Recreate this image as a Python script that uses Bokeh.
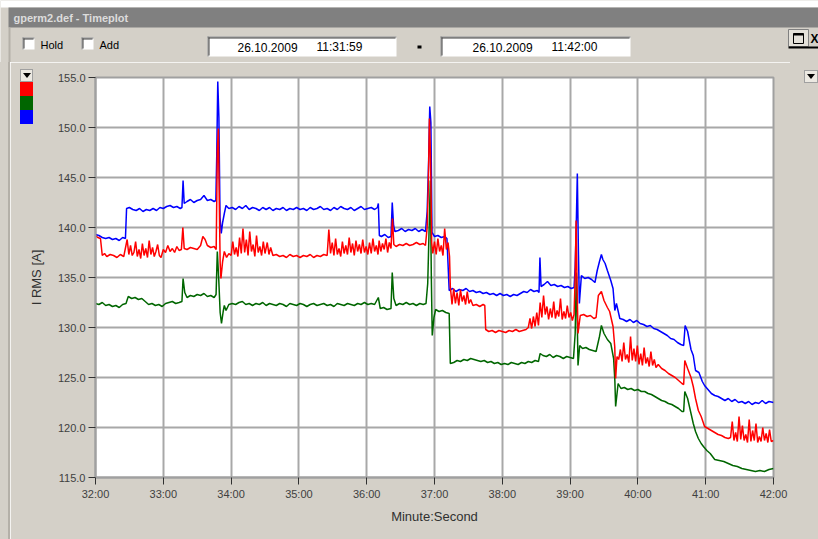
from bokeh.plotting import figure
from bokeh.layouts import column, row
from bokeh.models import Range1d, FixedTicker, PrintfTickFormatter, Div
from bokeh.core.properties import value
from bokeh.embed import file_html
from bokeh.resources import INLINE

# ---- data: seconds after 11:32:00 and RMS current [A] per phase ----
x_ticks = [0, 60, 120, 180, 240, 300, 360, 420, 480, 540, 600]
x_tick_labels = ["32:00", "33:00", "34:00", "35:00", "36:00", "37:00",
                 "38:00", "39:00", "40:00", "41:00", "42:00"]
y_ticks = [115, 120, 125, 130, 135, 140, 145, 150, 155]

t_blue = [0, 3, 6, 9, 12, 15, 18, 21, 24, 26.5, 27.5, 30, 33, 36, 39, 42, 45, 48, 51, 54,
          57, 60, 63, 66, 69, 72, 75, 76.5, 77.5, 78.5, 81, 84, 87, 90, 93, 96, 99, 102,
          105, 106.5, 107.3, 108.2, 109.2, 110.2, 111.3, 112.5, 114, 115.5, 118, 121,
          124, 127, 130, 133, 136, 139, 142, 145, 148, 151, 154, 157, 160, 163, 166,
          169, 172, 175, 178, 181, 184, 187, 190, 193, 196, 199, 202, 205, 208, 211,
          214, 217, 220, 223, 226, 229, 232, 235, 238, 241, 244, 247, 249.5, 250.3,
          251.2, 253, 256, 259, 261.5, 262.6, 263.8, 265, 268, 271, 274, 277, 280, 283,
          286, 289, 292, 293.5, 294.8, 295.8, 296.8, 297.8, 300, 303, 306, 309, 311,
          313, 316, 319, 322, 325, 328, 331, 334, 337, 340, 343, 346, 349, 352, 355,
          358, 361, 364, 367, 370, 373, 376, 379, 382, 385, 388, 391, 392.5, 393.3,
          394.3, 397, 400, 403, 406, 409, 412, 415, 418, 421, 423.5, 424.5, 425.5,
          426.4, 427.3, 428.2, 430, 433, 436, 439, 442, 444, 446, 447.7, 449, 451, 453,
          456, 458, 459.6, 461, 464, 467, 470, 473, 476, 479, 482, 485, 488, 491, 494,
          497, 500, 503, 506, 509, 512, 515, 518, 520.5, 521.8, 524, 527, 529, 531,
          534, 537, 539, 542, 545, 548, 551, 554, 557, 560, 563, 566, 569, 572, 575,
          578, 581, 584, 587, 590, 593, 596, 600]
i_blue = [139.3, 139.2, 139.0, 138.9, 139.0, 138.8, 138.9, 138.7, 139.0, 138.9, 141.9,
          142.0, 141.8, 141.7, 141.9, 141.6, 141.8, 141.7, 141.9, 141.7, 142.0, 141.9,
          142.1, 142.2, 142.0, 142.1, 141.9, 142.0, 144.7, 142.4, 142.6, 142.8, 142.5,
          142.7, 142.8, 143.2, 142.7, 142.8, 142.6, 142.7, 147.2, 154.6, 151.0, 141.0,
          139.4, 140.5, 141.4, 142.2, 141.9, 142.0, 141.8, 142.1, 141.9, 142.2, 141.8,
          142.0, 141.9, 141.7, 142.0, 141.8, 142.0, 141.7, 141.9, 141.8, 142.0, 141.7,
          141.9, 141.8, 142.0, 141.8, 141.9, 141.7, 142.0, 141.8, 141.9, 142.1, 141.8,
          141.9, 141.7, 142.0, 141.8, 142.1, 141.9, 141.8, 142.0, 141.7, 141.9, 142.1,
          141.8, 141.9, 142.0, 141.8, 142.0, 142.4, 139.2, 139.1, 139.3, 139.0, 139.1,
          142.5, 140.2, 139.6, 139.7, 139.9, 139.6, 139.8, 139.7, 139.9, 139.6, 139.8,
          139.6, 141.6, 146.6, 152.1, 150.5, 139.5, 139.1, 139.2, 139.0, 139.1, 138.9,
          133.7, 133.9, 133.6, 133.8, 133.7, 133.9, 133.6, 133.7, 133.5, 133.6, 133.4,
          133.5, 133.3, 133.4, 133.2, 133.4, 133.2, 133.3, 133.1, 133.3, 133.2, 133.4,
          133.6, 133.5, 133.8, 133.6, 133.7, 133.5, 137.0, 134.1, 134.3, 134.6, 134.2,
          134.3, 134.1, 134.2, 134.0, 134.1, 133.9, 134.0, 136.1, 140.5, 145.4, 138.0,
          132.4, 135.2, 134.9, 135.0, 134.8, 134.5, 135.7, 136.6, 137.3, 136.8, 136.4,
          135.7, 134.7, 133.9, 131.7, 132.4, 130.9, 130.8, 130.6, 130.8, 130.5, 130.7,
          130.4, 130.3, 130.1, 130.2, 129.9, 129.8, 129.6, 129.4, 129.2, 128.9, 128.8,
          128.5, 128.3, 128.2, 130.2, 129.6, 127.8, 127.2, 125.7, 125.5, 124.6, 124.2,
          123.8, 123.4, 123.2, 123.1, 122.9, 122.7, 122.9, 122.6, 122.8, 122.5, 122.6,
          122.4, 122.6, 122.3, 122.5, 122.4, 122.7, 122.4, 122.6, 122.5]

t_green = [0, 3, 6, 9, 12, 15, 18, 21, 24, 27, 29, 32, 35, 38, 41, 44, 47, 50, 53, 56,
           59, 62, 65, 68, 71, 74, 76.5, 77.5, 79, 81, 84, 87, 90, 93, 96, 99, 102, 105,
           106.7, 107.8, 109, 110.3, 111.5, 113, 114, 115.5, 118, 121, 124, 127, 130,
           133, 136, 139, 142, 145, 148, 151, 154, 157, 160, 163, 166, 169, 172, 175,
           178, 181, 184, 187, 190, 193, 196, 199, 202, 205, 208, 211, 214, 217, 220,
           223, 226, 229, 232, 235, 238, 241, 244, 247, 250.3, 252, 255, 258, 261.5,
           262.6, 264, 266, 269, 272, 275, 278, 281, 284, 287, 290, 292.5, 294, 295.5,
           296.3, 297.2, 298, 299.5, 301, 304, 307, 310, 313, 314, 317, 320, 323, 326,
           329, 332, 335, 338, 341, 344, 347, 350, 353, 356, 359, 362, 365, 368, 371,
           374, 377, 380, 383, 386, 389, 392, 393.5, 396, 399, 402, 405, 408, 411, 414,
           417, 420, 423, 424.5, 425.5, 426.3, 427, 428.5, 431, 434, 437, 440, 443, 446,
           447.7, 450, 453, 456, 458.5, 459.6, 460.3, 462.5, 465, 468, 471, 474, 477,
           480, 483, 486, 489, 492, 495, 498, 501, 504, 507, 510, 513, 516, 519, 520.5,
           521.5, 524, 527, 529, 531, 533.5, 536, 538, 541, 544, 548, 552, 556, 560,
           564, 568, 572, 576, 580, 584, 588, 592, 596, 600]
i_green = [132.4, 132.3, 132.5, 132.2, 132.3, 132.1, 132.2, 132.0, 132.3, 132.4, 133.1,
           132.9, 133.0, 132.8, 132.9, 132.6, 132.3, 132.4, 132.2, 132.3, 132.1, 132.4,
           132.5, 132.6, 132.4, 132.5, 132.6, 134.9, 133.5, 133.0, 133.2, 133.1, 133.3,
           133.2, 133.4, 133.1, 133.2, 133.0, 133.3, 137.6, 135.0, 131.5, 130.4, 131.6,
           132.2, 131.7, 132.3, 132.4, 132.3, 132.5, 132.6, 132.3, 132.4, 132.2, 132.4,
           132.3, 132.5, 132.2, 132.4, 132.3, 132.2, 132.4, 132.3, 132.1, 132.4, 132.3,
           132.2, 132.4, 132.3, 132.1, 132.3, 132.4, 132.2, 132.3, 132.4, 132.2, 132.3,
           132.1, 132.4, 132.3, 132.2, 132.4, 132.3, 132.2, 132.4, 132.3, 132.5, 132.3,
           132.4, 132.3, 133.0, 131.9, 132.0, 131.8, 131.9, 135.5, 132.9, 132.2, 132.4,
           132.3, 132.5, 132.3, 132.4, 132.2, 132.4, 132.3, 132.4, 134.4, 141.0, 144.7,
           135.0, 129.2, 131.0, 131.8, 131.6, 131.7, 131.5, 131.4, 126.4, 126.5, 126.7,
           126.6, 126.8, 126.7, 126.9, 126.8, 126.7, 126.6, 126.7, 126.5, 126.6, 126.4,
           126.5, 126.3, 126.4, 126.3, 126.5, 126.4, 126.3, 126.5, 126.4, 126.6, 126.5,
           126.7, 126.6, 127.4, 127.2, 127.1, 127.3, 127.0, 127.2, 127.1, 126.9, 127.1,
           127.0, 126.9, 129.4, 135.5, 131.0, 126.2, 128.2, 127.9, 128.0, 127.8, 127.7,
           127.6, 129.1, 130.2, 129.4, 128.8, 128.4, 126.9, 124.7, 122.1, 124.4, 123.9,
           124.0, 123.8, 123.9, 123.7, 123.8, 123.6, 123.6, 123.4, 123.3, 123.1, 122.9,
           122.7, 122.6, 122.4, 122.3, 122.1, 121.9, 121.6, 121.6, 123.6, 122.9, 121.4,
           120.4, 119.6, 118.9, 118.4, 118.1, 117.7, 117.4, 116.8, 116.7, 116.6, 116.4,
           116.2, 116.1, 115.9, 115.8, 115.7, 115.6, 115.7, 115.6, 115.8, 115.9]

t_red = [0, 2, 4.4, 6, 8, 10, 13, 16, 19, 22, 25, 28, 29.5, 31, 32.5, 34, 35.5, 37, 38.5,
         40, 41.5, 43, 44.5, 46, 47.5, 49, 50.5, 52, 53.5, 55, 56.5, 58, 60, 62, 64, 66,
         68, 70, 72, 74, 76, 77.3, 78.5, 81, 84, 87, 90, 93, 95, 97, 99, 102, 105, 106.8,
         107.8, 108.7, 109.5, 110.3, 111, 112.5, 114, 116, 118, 120, 121.5, 123, 124.5,
         126, 127.5, 129, 130.5, 132, 133.5, 135, 136.5, 138, 139.5, 141, 142.5, 144,
         145.5, 147, 148.5, 150, 152, 153.5, 155, 157, 160, 163, 166, 169, 172, 175,
         178, 181, 184, 187, 190, 193, 196, 199, 202, 205, 206.5, 208, 209.5, 211,
         212.5, 214, 215.5, 217, 218.5, 220, 221.5, 223, 224.5, 226, 227.5, 229, 230.5,
         232, 233.5, 235, 236.5, 238, 239.5, 241, 242.5, 244, 245.5, 247, 248.5, 250,
         251, 252.5, 254, 255.5, 257, 258.5, 260, 261.5, 262.8, 264, 266, 269, 272, 275,
         278, 281, 284, 287, 290, 292, 293.5, 294.5, 295.5, 296.5, 297.5, 298.5, 300,
         301.5, 303, 304.5, 306, 307.5, 309, 310.5, 312, 313.3, 314, 315.5, 317, 318.5,
         320, 321.5, 323, 324.5, 326, 327.5, 329, 330.5, 332, 334, 337, 340, 343, 344.5,
         345.3, 348, 351, 354, 357, 360, 363, 366, 369, 372, 375, 378, 381, 383, 384.5,
         386, 387.5, 389, 390.5, 392, 393.5, 395, 396.5, 398, 399.5, 401, 402.5, 404,
         405.5, 407, 408.5, 410, 411.5, 413, 414.5, 416, 417.5, 419, 420.5, 422, 423.5,
         424.5, 425.3, 426.2, 427, 429, 432, 435, 438, 441, 443, 445, 447.7, 450, 453,
         455, 458, 459.5, 460.3, 461.5, 463, 464.5, 466, 467.5, 469, 470.5, 472, 473.5,
         475, 476.5, 478, 479.5, 481, 482.5, 484, 485.5, 487, 488.5, 490, 491.5, 493,
         494.5, 496, 498, 501, 504, 507, 510, 513, 516, 519, 520.5, 521.5, 524, 527,
         529, 531, 533.5, 536, 539, 542, 545, 548, 551, 554, 557, 560, 562, 563.5, 565,
         566.5, 568, 569.5, 571, 572.5, 574, 575.5, 577, 578.5, 580, 581.5, 583, 584.5,
         586, 587.5, 589, 590.5, 592, 593.5, 595, 596.5, 598, 600]
i_red = [139.2, 139.0, 138.9, 137.2, 137.4, 137.1, 137.3, 137.2, 137.0, 137.3, 137.1,
         138.8, 137.3, 138.2, 137.2, 137.5, 138.6, 137.1, 137.8, 136.9, 138.4, 137.2,
         137.9, 137.0, 138.7, 137.3, 138.0, 137.1, 137.6, 138.3, 137.2, 137.0, 137.8,
         137.5, 138.2, 137.6, 137.9, 137.5, 138.1, 137.7, 137.8, 140.0, 137.9, 137.8,
         138.0, 137.9, 137.8, 138.2, 139.1, 138.8, 138.2, 138.0, 138.1, 137.8, 147.6,
         149.9, 143.0, 136.5, 134.9, 136.6, 137.6, 137.0, 137.4, 137.2, 138.6, 137.3,
         138.0, 137.1, 139.0, 137.4, 139.9, 137.5, 138.8, 137.2, 139.6, 137.6, 138.3,
         137.1, 139.2, 137.5, 138.1, 137.2, 138.6, 137.4, 138.5, 137.3, 138.0, 137.2,
         137.3, 137.1, 137.2, 137.0, 137.3, 137.1, 137.2, 137.0, 137.2, 137.1, 137.3,
         137.0, 137.2, 137.1, 137.3, 137.2, 139.8, 137.4, 138.5, 137.2, 138.9, 137.3,
         137.9, 137.1, 138.6, 137.4, 138.2, 137.3, 139.0, 137.5, 138.4, 137.2, 138.7,
         137.6, 138.3, 137.4, 138.8, 137.5, 138.1, 137.3, 138.5, 137.4, 138.9, 137.6,
         138.2, 137.3, 138.7, 137.6, 138.4, 137.8, 138.9, 137.5, 138.5, 137.9, 140.9,
         138.3, 138.1, 138.3, 138.2, 138.4, 138.2, 138.3, 138.5, 138.3, 138.4, 138.2,
         140.0, 144.0, 150.9, 147.0, 138.5, 137.4, 138.6, 137.3, 138.9, 137.6, 138.2,
         137.2, 139.9, 137.8, 138.5, 137.1, 134.1, 132.3, 133.9, 132.4, 133.5, 132.2,
         133.8, 132.6, 133.2, 132.3, 133.6, 132.4, 132.8, 132.2, 132.3, 132.1, 132.3,
         132.2, 129.8, 129.6, 129.7, 129.5, 129.7, 129.6, 129.5, 129.7, 129.6, 129.8,
         129.6, 129.7, 129.8, 130.0, 130.9, 129.9, 131.1, 130.1, 131.5, 130.2, 132.5,
         131.0, 133.2, 131.3, 132.1, 130.8, 131.9, 131.0, 132.6, 130.9, 131.7, 131.1,
         132.9, 130.8, 131.6, 130.9, 132.2, 131.0, 131.5, 130.7, 131.3, 135.0, 140.7,
         134.0, 129.4, 131.2, 131.3, 131.1, 131.2, 130.9, 131.0, 133.2, 133.6, 132.7,
         132.0, 131.6, 130.1, 128.1, 124.9, 127.1, 126.8, 127.8, 126.6, 128.5, 126.8,
         127.3, 126.5, 129.1, 126.7, 127.9, 126.6, 128.2, 126.3, 127.4, 126.2, 128.0,
         126.4, 127.0, 126.1, 127.6, 126.2, 126.8, 126.0, 126.3, 125.9, 125.7, 125.4,
         125.2, 125.0, 124.7, 124.4, 124.3, 126.7, 125.9, 125.0, 124.1, 122.9, 121.7,
         121.1, 120.1, 119.9, 119.7, 119.5, 119.3, 119.2, 119.0, 118.9, 119.0, 120.6,
         118.7, 119.5, 118.6, 121.1, 118.8, 120.2, 118.7, 119.3, 118.5, 120.8, 118.6,
         119.7, 118.7, 120.4, 118.5, 119.1, 118.6, 120.0, 118.7, 119.4, 118.5, 119.8,
         118.6, 118.7]

# ---- window geometry (pixels) ----
W, H = 818, 539
TOP_H = 62            # caption bar + controls strip
LEFT_W = 10           # window edge on the left
RIGHT_W = 28          # right-hand strip
FL, FR, FT, FB = 95, 773, 77, 477   # plotting frame on the window
WIN = "#d4d0c8"
FONT = "Liberation Sans"
RED, GREEN, BLUE = "#ff0000", "#006600", "#0000ff"


def panel(w, h):
    """A plain pixel-space drawing surface for window decoration."""
    f = figure(width=w, height=h, output_backend="svg", toolbar_location=None,
               x_range=Range1d(0, w), y_range=Range1d(h, 0),
               x_axis_type=None, y_axis_type=None, min_border=0)
    f.background_fill_color = WIN
    f.border_fill_color = WIN
    f.outline_line_color = None
    f.grid.visible = False
    return f


def rect(f, x0, y0, x1, y1, fill, line=None):
    f.quad(left=x0, right=x1, top=y0, bottom=y1, fill_color=fill,
           line_color=line, line_width=1)


def label(f, x, y, s, size="11px", color="#000000", bold=False):
    f.text(x=[x], y=[y], text=[s], text_font=value(FONT),
           text_font_size=value(size), text_color=color,
           text_baseline="middle", text_align="left",
           text_font_style="bold" if bold else "normal")


def sunken(f, x0, y0, x1, y1):
    rect(f, x0, y0, x1, y1, "white")
    rect(f, x0, y0, x1, y0 + 1, "#808080")
    rect(f, x0, y0, x0 + 1, y1, "#808080")
    rect(f, x0 + 1, y0 + 1, x1 - 1, y0 + 2, "#404040")
    rect(f, x0 + 1, y0 + 1, x0 + 2, y1 - 1, "#404040")


def css_box(x, y, w, h, css):
    return (f'<div style="position:absolute;left:{x}px;top:{y}px;width:{w}px;'
            f'height:{h}px;box-sizing:border-box;z-index:5;{css}"></div>')


def css_triangle(x, y):
    return (f'<div style="position:absolute;left:{x}px;top:{y}px;width:0;height:0;'
            'border-left:4px solid transparent;border-right:4px solid transparent;'
            'border-top:5px solid #000;z-index:6"></div>')


def strip(w, h, inner):
    html = (f'<div style="position:relative;width:{w}px;height:{h}px;'
            f'background:{WIN};overflow:visible">{inner}</div>')
    return Div(text=html, width=w, height=h, margin=0,
               styles={"overflow": "visible", "background-color": WIN})


# ---- caption bar and controls ----
top = panel(W, TOP_H)
rect(top, 0, 0, W, 7, "#ffffff")
rect(top, 8, 7, W, 27, "#808080")
label(top, 13, 17.5, "gperm2.def - Timeplot", size="11px", color="#dcdcdc", bold=True)
rect(top, 8, 27, 10, TOP_H, "#b4b0a8")
sunken(top, 22, 37, 34, 49)
label(top, 40, 44, "Hold")
sunken(top, 81, 37, 93, 49)
label(top, 99, 44, "Add")
sunken(top, 207, 36, 396, 56)
label(top, 237, 46.5, "26.10.2009", size="12px")
label(top, 316, 46.5, "11:31:59", size="12px")
rect(top, 417, 45, 421, 48, "#000000")
sunken(top, 440, 36, 630, 56)
label(top, 472, 46.5, "26.10.2009", size="12px")
label(top, 551, 46.5, "11:42:00", size="12px")
rect(top, 788, 29, 808, 46, "#e4e1da", "#808080")
rect(top, 793, 33, 803, 43, None, "#000000")
rect(top, 793, 33, 803, 35, "#000000")
rect(top, 788, 46, W, 48, "#000000")
label(top, 810, 38, "X", size="12px", bold=True)

# ---- left window edge with the channel selector (colour swatches of the phases) ----
left_parts = [css_box(8, 0, 2, H - TOP_H, "background:#b4b0a8"),
              css_box(20, 69 - TOP_H, 13, 13, "background:#ece9e2;border:1px solid #a0a0a0"),
              css_triangle(22.5, 73 - TOP_H)]
for c, y0 in ((RED, 82), (GREEN, 96), (BLUE, 110)):
    left_parts.append(css_box(20, y0 - TOP_H, 13, 14, f"background:{c}"))
left = strip(LEFT_W, H - TOP_H, "".join(left_parts))

# ---- right-hand strip ----
right = strip(RIGHT_W, H - TOP_H,
              css_box(14, 70 - TOP_H, 14, 13, "background:#ece9e2;border:1px solid #a0a0a0")
              + css_triangle(17, 74 - TOP_H))

# ---- time plot ----
p = figure(width=W - LEFT_W - RIGHT_W, height=H - TOP_H,
           output_backend="svg", toolbar_location=None,
           x_range=Range1d(0, 600), y_range=Range1d(115, 155),
           min_border_left=FL - LEFT_W, min_border_right=W - RIGHT_W - FR,
           min_border_top=FT - TOP_H, min_border_bottom=H - FB)
p.background_fill_color = "white"
p.border_fill_color = WIN
p.outline_line_color = "#a0a0a0"
p.outline_line_width = 2

p.xaxis.ticker = FixedTicker(ticks=x_ticks)
p.xaxis.major_label_overrides = {t: s for t, s in zip(x_ticks, x_tick_labels)}
p.yaxis.ticker = FixedTicker(ticks=y_ticks)
p.yaxis.formatter = PrintfTickFormatter(format="%.1f")
p.xaxis.axis_label = "Minute:Second"
p.yaxis.axis_label = "I RMS [A]"

for ax in (p.xaxis, p.yaxis):
    ax.axis_line_color = "#a0a0a0"
    ax.axis_line_width = 2
    ax.major_tick_in = 0
    ax.major_tick_out = 7
    ax.major_tick_line_color = "#303030"
    ax.major_tick_line_width = 1
    ax.minor_tick_line_color = None
    ax.major_label_text_font = FONT
    ax.major_label_text_font_size = "11px"
    ax.major_label_text_color = "#404040"
    ax.major_label_standoff = 3
    ax.axis_label_text_font = FONT
    ax.axis_label_text_font_size = "13px"
    ax.axis_label_text_font_style = "normal"
    ax.axis_label_text_color = "#303030"
p.yaxis.axis_label_standoff = 11
p.xaxis.axis_label_standoff = 6

p.grid.grid_line_color = "#a8a8a8"
p.grid.grid_line_width = 2

p.line(t_blue, i_blue, line_color=BLUE, line_width=1.5)
p.line(t_green, i_green, line_color=GREEN, line_width=1.5)
p.line(t_red, i_red, line_color=RED, line_width=1.5)

page = column(top, row(left, p, right, spacing=0), spacing=0)
open("out.html", "w").write(file_html(page, INLINE))
